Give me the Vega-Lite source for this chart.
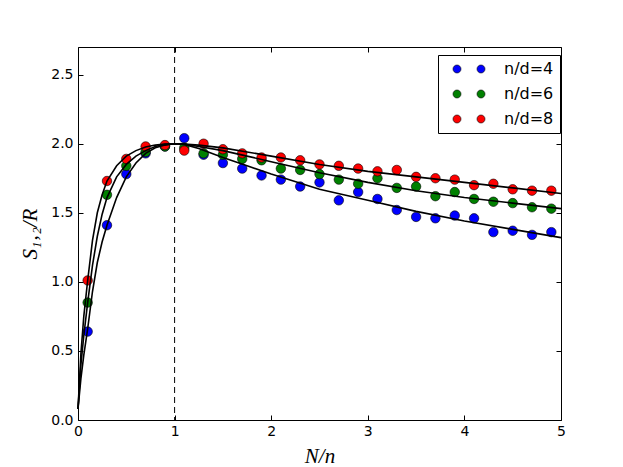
{
  "$schema": "https://vega.github.io/schema/vega-lite/v6.json",
  "width": 483,
  "height": 373,
  "autosize": "none",
  "padding": {"left": 78, "top": 47, "right": 62, "bottom": 47},
  "background": "white",
  "config": {
    "view": {"stroke": "black", "strokeWidth": 1},
    "axis": {
      "labelFont": "DejaVu Sans",
      "labelFontSize": 14,
      "labelColor": "black",
      "labelFlush": false,
      "labelOverlap": false,
      "tickColor": "black",
      "tickWidth": 1,
      "tickSize": -5,
      "domain": false,
      "grid": false,
      "titleFont": "Liberation Serif",
      "titleFontStyle": "italic",
      "titleFontWeight": "normal",
      "titleFontSize": 21,
      "titleColor": "black"
    }
  },
  "datasets": {
    "pts": [
      {"x": 0.1, "y": 0.64, "s": "n/d=4"}, {"x": 0.3, "y": 1.41, "s": "n/d=4"}, {"x": 0.5, "y": 1.78, "s": "n/d=4"},
      {"x": 0.7, "y": 1.93, "s": "n/d=4"}, {"x": 0.9, "y": 1.98, "s": "n/d=4"}, {"x": 1.1, "y": 2.04, "s": "n/d=4"},
      {"x": 1.3, "y": 1.92, "s": "n/d=4"}, {"x": 1.5, "y": 1.86, "s": "n/d=4"}, {"x": 1.7, "y": 1.82, "s": "n/d=4"},
      {"x": 1.9, "y": 1.77, "s": "n/d=4"}, {"x": 2.1, "y": 1.74, "s": "n/d=4"}, {"x": 2.3, "y": 1.69, "s": "n/d=4"},
      {"x": 2.5, "y": 1.72, "s": "n/d=4"}, {"x": 2.7, "y": 1.59, "s": "n/d=4"}, {"x": 2.9, "y": 1.65, "s": "n/d=4"},
      {"x": 3.1, "y": 1.60, "s": "n/d=4"}, {"x": 3.3, "y": 1.52, "s": "n/d=4"}, {"x": 3.5, "y": 1.47, "s": "n/d=4"},
      {"x": 3.7, "y": 1.46, "s": "n/d=4"}, {"x": 3.9, "y": 1.48, "s": "n/d=4"}, {"x": 4.1, "y": 1.46, "s": "n/d=4"},
      {"x": 4.3, "y": 1.36, "s": "n/d=4"}, {"x": 4.5, "y": 1.37, "s": "n/d=4"}, {"x": 4.7, "y": 1.34, "s": "n/d=4"},
      {"x": 4.9, "y": 1.36, "s": "n/d=4"},
      {"x": 0.1, "y": 0.85, "s": "n/d=6"}, {"x": 0.3, "y": 1.63, "s": "n/d=6"}, {"x": 0.5, "y": 1.84, "s": "n/d=6"},
      {"x": 0.7, "y": 1.94, "s": "n/d=6"}, {"x": 0.9, "y": 1.98, "s": "n/d=6"}, {"x": 1.1, "y": 1.97, "s": "n/d=6"},
      {"x": 1.3, "y": 1.93, "s": "n/d=6"}, {"x": 1.5, "y": 1.92, "s": "n/d=6"}, {"x": 1.7, "y": 1.89, "s": "n/d=6"},
      {"x": 1.9, "y": 1.88, "s": "n/d=6"}, {"x": 2.1, "y": 1.82, "s": "n/d=6"}, {"x": 2.3, "y": 1.81, "s": "n/d=6"},
      {"x": 2.5, "y": 1.78, "s": "n/d=6"}, {"x": 2.7, "y": 1.74, "s": "n/d=6"}, {"x": 2.9, "y": 1.71, "s": "n/d=6"},
      {"x": 3.1, "y": 1.75, "s": "n/d=6"}, {"x": 3.3, "y": 1.68, "s": "n/d=6"}, {"x": 3.5, "y": 1.69, "s": "n/d=6"},
      {"x": 3.7, "y": 1.62, "s": "n/d=6"}, {"x": 3.9, "y": 1.65, "s": "n/d=6"}, {"x": 4.1, "y": 1.60, "s": "n/d=6"},
      {"x": 4.3, "y": 1.58, "s": "n/d=6"}, {"x": 4.5, "y": 1.57, "s": "n/d=6"}, {"x": 4.7, "y": 1.54, "s": "n/d=6"},
      {"x": 4.9, "y": 1.53, "s": "n/d=6"},
      {"x": 0.1, "y": 1.01, "s": "n/d=8"}, {"x": 0.3, "y": 1.73, "s": "n/d=8"}, {"x": 0.5, "y": 1.89, "s": "n/d=8"},
      {"x": 0.7, "y": 1.98, "s": "n/d=8"}, {"x": 0.9, "y": 1.99, "s": "n/d=8"}, {"x": 1.1, "y": 1.95, "s": "n/d=8"},
      {"x": 1.3, "y": 2.00, "s": "n/d=8"}, {"x": 1.5, "y": 1.96, "s": "n/d=8"}, {"x": 1.7, "y": 1.93, "s": "n/d=8"},
      {"x": 1.9, "y": 1.90, "s": "n/d=8"}, {"x": 2.1, "y": 1.90, "s": "n/d=8"}, {"x": 2.3, "y": 1.88, "s": "n/d=8"},
      {"x": 2.5, "y": 1.85, "s": "n/d=8"}, {"x": 2.7, "y": 1.84, "s": "n/d=8"}, {"x": 2.9, "y": 1.82, "s": "n/d=8"},
      {"x": 3.1, "y": 1.80, "s": "n/d=8"}, {"x": 3.3, "y": 1.81, "s": "n/d=8"}, {"x": 3.5, "y": 1.76, "s": "n/d=8"},
      {"x": 3.7, "y": 1.75, "s": "n/d=8"}, {"x": 3.9, "y": 1.74, "s": "n/d=8"}, {"x": 4.1, "y": 1.70, "s": "n/d=8"},
      {"x": 4.3, "y": 1.71, "s": "n/d=8"}, {"x": 4.5, "y": 1.67, "s": "n/d=8"}, {"x": 4.7, "y": 1.66, "s": "n/d=8"},
      {"x": 4.9, "y": 1.66, "s": "n/d=8"}
    ],
    "fit": [
      {"x": 0, "y": 0.08, "s": "4"}, {"x": 0.03, "y": 0.30, "s": "4"}, {"x": 0.06, "y": 0.47, "s": "4"},
      {"x": 0.1, "y": 0.66, "s": "4"}, {"x": 0.15, "y": 0.93, "s": "4"}, {"x": 0.2, "y": 1.14, "s": "4"},
      {"x": 0.25, "y": 1.29, "s": "4"}, {"x": 0.3, "y": 1.41, "s": "4"}, {"x": 0.4, "y": 1.61, "s": "4"},
      {"x": 0.5, "y": 1.76, "s": "4"}, {"x": 0.6, "y": 1.86, "s": "4"}, {"x": 0.7, "y": 1.93, "s": "4"},
      {"x": 0.8, "y": 1.97, "s": "4"}, {"x": 0.9, "y": 1.99, "s": "4"}, {"x": 1.0, "y": 2.0, "s": "4"},
      {"x": 1.1, "y": 1.995, "s": "4"}, {"x": 1.25, "y": 1.965, "s": "4"}, {"x": 1.5, "y": 1.90, "s": "4"},
      {"x": 1.75, "y": 1.84, "s": "4"}, {"x": 2.0, "y": 1.78, "s": "4"}, {"x": 2.5, "y": 1.67, "s": "4"},
      {"x": 3.0, "y": 1.59, "s": "4"}, {"x": 3.5, "y": 1.51, "s": "4"}, {"x": 4.0, "y": 1.44, "s": "4"},
      {"x": 4.5, "y": 1.38, "s": "4"}, {"x": 5.0, "y": 1.32, "s": "4"},
      {"x": 0, "y": 0.08, "s": "6"}, {"x": 0.03, "y": 0.40, "s": "6"}, {"x": 0.06, "y": 0.61, "s": "6"},
      {"x": 0.1, "y": 0.85, "s": "6"}, {"x": 0.15, "y": 1.12, "s": "6"}, {"x": 0.2, "y": 1.33, "s": "6"},
      {"x": 0.25, "y": 1.49, "s": "6"}, {"x": 0.3, "y": 1.61, "s": "6"}, {"x": 0.4, "y": 1.76, "s": "6"},
      {"x": 0.5, "y": 1.85, "s": "6"}, {"x": 0.6, "y": 1.91, "s": "6"}, {"x": 0.7, "y": 1.95, "s": "6"},
      {"x": 0.8, "y": 1.98, "s": "6"}, {"x": 0.9, "y": 1.995, "s": "6"}, {"x": 1.0, "y": 2.0, "s": "6"},
      {"x": 1.1, "y": 1.997, "s": "6"}, {"x": 1.25, "y": 1.98, "s": "6"}, {"x": 1.5, "y": 1.95, "s": "6"},
      {"x": 1.75, "y": 1.91, "s": "6"}, {"x": 2.0, "y": 1.87, "s": "6"}, {"x": 2.5, "y": 1.79, "s": "6"},
      {"x": 3.0, "y": 1.72, "s": "6"}, {"x": 3.5, "y": 1.66, "s": "6"}, {"x": 4.0, "y": 1.61, "s": "6"},
      {"x": 4.5, "y": 1.57, "s": "6"}, {"x": 5.0, "y": 1.53, "s": "6"},
      {"x": 0, "y": 0.08, "s": "8"}, {"x": 0.03, "y": 0.48, "s": "8"}, {"x": 0.06, "y": 0.75, "s": "8"},
      {"x": 0.1, "y": 1.01, "s": "8"}, {"x": 0.15, "y": 1.30, "s": "8"}, {"x": 0.2, "y": 1.50, "s": "8"},
      {"x": 0.25, "y": 1.63, "s": "8"}, {"x": 0.3, "y": 1.73, "s": "8"}, {"x": 0.4, "y": 1.84, "s": "8"},
      {"x": 0.5, "y": 1.91, "s": "8"}, {"x": 0.6, "y": 1.95, "s": "8"}, {"x": 0.7, "y": 1.976, "s": "8"},
      {"x": 0.8, "y": 1.99, "s": "8"}, {"x": 0.9, "y": 1.998, "s": "8"}, {"x": 1.0, "y": 2.0, "s": "8"},
      {"x": 1.1, "y": 1.998, "s": "8"}, {"x": 1.25, "y": 1.99, "s": "8"}, {"x": 1.5, "y": 1.97, "s": "8"},
      {"x": 1.75, "y": 1.94, "s": "8"}, {"x": 2.0, "y": 1.91, "s": "8"}, {"x": 2.5, "y": 1.85, "s": "8"},
      {"x": 3.0, "y": 1.80, "s": "8"}, {"x": 3.5, "y": 1.76, "s": "8"}, {"x": 4.0, "y": 1.72, "s": "8"},
      {"x": 4.5, "y": 1.68, "s": "8"}, {"x": 5.0, "y": 1.64, "s": "8"}
    ],
    "vline": [{"x": 1}]
  },
  "layer": [
    {
      "data": {"name": "pts"},
      "mark": {"type": "point", "filled": true, "size": 90, "stroke": "black", "strokeWidth": 0.6, "opacity": 1},
      "encoding": {
        "x": {"field": "x", "type": "quantitative", "scale": {"domain": [0, 5], "nice": false},
              "axis": {"orient": "bottom", "values": [0, 1, 2, 3, 4, 5], "format": "d", "labelPadding": 9, "title": "N/n", "titlePadding": 7}},
        "y": {"field": "y", "type": "quantitative", "scale": {"domain": [0, 2.7], "nice": false, "zero": false},
              "axis": {"orient": "left", "values": [0, 0.5, 1, 1.5, 2, 2.5], "format": ".1f", "labelPadding": 10, "title": "S₁‚₂/R", "titlePadding": 10}},
        "color": {"field": "s", "type": "nominal",
                  "scale": {"domain": ["n/d=4", "n/d=6", "n/d=8"], "range": ["#0000ff", "#008000", "#ff0000"]},
                  "legend": {"title": null, "orient": "none", "legendX": 360, "legendY": 8,
                             "strokeColor": "black", "fillColor": "white", "padding": 6, "cornerRadius": 0,
                             "symbolType": "M -2,0 A 1,1 0 1,1 -4,0 A 1,1 0 1,1 -2,0 Z M 4,0 A 1,1 0 1,1 2,0 A 1,1 0 1,1 4,0 Z",
                             "symbolSize": 64, "symbolOffset": 17, "labelOffset": 27,
                             "symbolStrokeColor": "black", "symbolStrokeWidth": 0.6, "symbolOpacity": 1,
                             "labelFont": "DejaVu Sans", "labelFontSize": 16, "labelColor": "black", "rowPadding": 9}}
      }
    },
    {
      "data": {"name": "fit"},
      "mark": {"type": "line", "color": "black", "strokeWidth": 1.6},
      "encoding": {
        "x": {"field": "x", "type": "quantitative", "axis": {"orient": "top", "values": [0, 1, 2, 3, 4, 5], "labels": false, "title": null}},
        "y": {"field": "y", "type": "quantitative", "axis": {"orient": "right", "values": [0, 0.5, 1, 1.5, 2, 2.5], "labels": false, "title": null}},
        "detail": {"field": "s", "type": "nominal"}
      }
    },
    {
      "data": {"name": "vline"},
      "mark": {"type": "rule", "color": "black", "strokeWidth": 1, "strokeDash": [6, 4]},
      "encoding": {
        "x": {"field": "x", "type": "quantitative", "axis": null}
      }
    }
  ],
  "resolve": {"axis": {"x": "independent", "y": "independent"}}
}
